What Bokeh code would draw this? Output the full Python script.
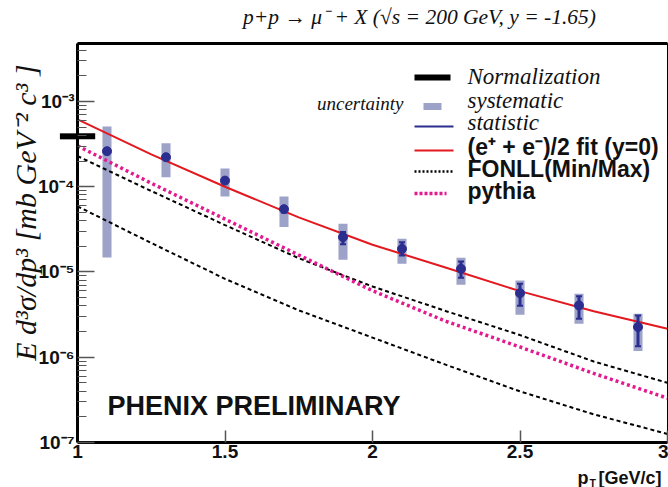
import math
from bokeh.plotting import figure
from bokeh.models import (Label, FixedTicker, CustomJSTickFormatter, LinearAxis,
                          ColumnDataSource)
from bokeh.embed import file_html
from bokeh.resources import INLINE

# ---------------- data ----------------
pt = [1.1, 1.3, 1.5, 1.7, 1.9, 2.1, 2.3, 2.5, 2.7, 2.9]
xsec = [2.61e-4, 2.22e-4, 1.18e-4, 5.46e-5, 2.56e-5, 1.87e-5, 1.09e-5, 5.64e-6, 4.05e-6, 2.26e-6]
sys_hi = [5.10e-4, 3.24e-4, 1.64e-4, 7.70e-5, 3.67e-5, 2.45e-5, 1.47e-5, 7.94e-6, 5.55e-6, 3.24e-6]
sys_lo = [1.48e-5, 1.29e-4, 7.70e-5, 3.36e-5, 1.39e-5, 1.25e-5, 7.08e-6, 3.15e-6, 2.47e-6, 1.18e-6]
stat_hi = [2.75e-4, 2.32e-4, 1.25e-4, 5.90e-5, 2.95e-5, 2.24e-5, 1.33e-5, 7.28e-6, 5.20e-6, 3.09e-6]
stat_lo = [2.47e-4, 2.12e-4, 1.11e-4, 5.00e-5, 2.11e-5, 1.56e-5, 8.55e-6, 4.02e-6, 2.82e-6, 1.35e-6]

curve_pt = [1.0, 1.25, 1.5, 1.75, 2.0, 2.25, 2.5, 2.75, 3.0]
fit_ee = [6.17e-4, 2.40e-4, 1.00e-4, 4.37e-5, 2.09e-5, 1.12e-5, 5.96e-6, 3.47e-6, 2.16e-6]
fonll_max = [2.29e-4, 8.91e-5, 3.55e-5, 1.45e-5, 6.76e-6, 3.47e-6, 1.82e-6, 8.91e-7, 5.01e-7]
fonll_min = [5.89e-5, 2.19e-5, 8.32e-6, 3.55e-6, 1.70e-6, 8.13e-7, 3.98e-7, 2.14e-7, 1.26e-7]
pythia = [3.02e-4, 1.10e-4, 4.17e-5, 1.58e-5, 6.03e-6, 2.63e-6, 1.32e-6, 6.46e-7, 3.31e-7]

norm_value = 3.9e-4
norm_pt = [0.94, 1.06]

x_ticks = [1, 1.5, 2, 2.5, 3]
y_decades = [1e-7, 1e-6, 1e-5, 1e-4, 1e-3]

# ---------------- layout helpers ----------------
W, H = 668, 487
FL, FR, FT, FB = 77, 667, 43, 442
XMIN, XMAX = 1.0, 3.0
LOGMIN = -7.0
DEC = 85.256
LOGMAX = LOGMIN + (FB - FT) / DEC


def dx(px):
    return XMIN + (px - FL) * (XMAX - XMIN) / (FR - FL)


def dy(py):
    return 10 ** (LOGMIN + (FB - py) / DEC)


SERIF = "Liberation Serif"
SANS = "Liberation Sans"
SYS_COL = "#9da2c8"
PT_COL = "#2b2d8f"
RED = "#e3191f"
PINK = "#e3198f"

p = figure(width=W, height=H, x_range=(XMIN, XMAX), y_range=(10 ** LOGMIN, 10 ** LOGMAX),
           y_axis_type="log", output_backend="svg", toolbar_location=None,
           min_border_left=FL, min_border_right=W - FR, min_border_top=FT,
           min_border_bottom=H - FB)
p.title.visible = False
p.xgrid.visible = False
p.ygrid.visible = False
p.background_fill_color = "white"
p.border_fill_color = "white"
p.outline_line_color = "black"
p.outline_line_width = 1

# axes
xa = p.xaxis[0]
xa.ticker = FixedTicker(ticks=x_ticks, minor_ticks=[])
xa.axis_line_width = 3
xa.major_tick_in = 12
xa.major_tick_out = 0
xa.minor_tick_out = 0
xa.major_tick_line_color = "#555555"
xa.major_tick_line_width = 1.5
xa.minor_tick_line_color = None
xa.major_label_text_font = SANS
xa.major_label_text_font_style = "bold"
xa.major_label_text_font_size = "19px"
xa.major_label_standoff = 2
xa.major_label_text_color = "#111111"

ya = p.yaxis[0]
minor = [m * d for d in [1e-8] + y_decades for m in range(2, 10)]
ya.ticker = FixedTicker(ticks=y_decades, minor_ticks=minor)
ya.axis_line_width = 3
ya.major_tick_in = 17
ya.major_tick_out = 0
ya.minor_tick_in = 9
ya.minor_tick_out = 0
ya.major_tick_line_color = "#555555"
ya.minor_tick_line_color = "#555555"
ya.major_tick_line_width = 1.5
ya.minor_tick_line_width = 1.2
ya.major_label_text_font = SANS
ya.major_label_text_font_style = "bold"
ya.major_label_text_font_size = "19px"
ya.major_label_standoff = 3
ya.major_label_text_color = "#111111"
ya.formatter = CustomJSTickFormatter(code="""
const sup = {'-':'\u207b','0':'\u2070','1':'\u00b9','2':'\u00b2','3':'\u00b3','4':'\u2074',
             '5':'\u2075','6':'\u2076','7':'\u2077','8':'\u2078','9':'\u2079'};
const e = Math.round(Math.log10(tick));
return '10' + String(e).split('').map(c => sup[c]).join('');
""")

top = LinearAxis(axis_line_width=3, major_tick_line_color=None, minor_tick_line_color=None,
                 major_tick_out=0, minor_tick_out=0, major_tick_in=0, minor_tick_in=0,
                 major_label_text_font_size="0px", major_label_standoff=0)
top.ticker = FixedTicker(ticks=[], minor_ticks=[])
p.add_layout(top, "above")

# ---------------- data marks ----------------
half_w = 0.0153
src = ColumnDataSource(dict(
    pt=pt, xsec=xsec, sys_hi=sys_hi, sys_lo=sys_lo, stat_hi=stat_hi, stat_lo=stat_lo,
    left=[v - half_w for v in pt], right=[v + half_w for v in pt]))
p.quad(left="left", right="right", bottom="sys_lo", top="sys_hi", source=src,
       fill_color=SYS_COL, line_color=None)

p.line(curve_pt, fit_ee, line_color=RED, line_width=2)
p.line(curve_pt, fonll_max, line_color="black", line_width=2, line_dash="4 3")
p.line(curve_pt, fonll_min, line_color="black", line_width=2, line_dash="4 3")
p.line(curve_pt, pythia, line_color=PINK, line_width=3.5, line_dash="3 3")

p.segment(x0="pt", x1="pt", y0="stat_lo", y1="stat_hi", source=src,
          line_color=PT_COL, line_width=3)
p.rect(x="pt", y="stat_hi", width=6, height=2, width_units="screen", height_units="screen",
       source=src, fill_color=PT_COL, line_color=None)
p.rect(x="pt", y="stat_lo", width=6, height=2, width_units="screen", height_units="screen",
       source=src, fill_color=PT_COL, line_color=None)
p.scatter(x="pt", y="xsec", source=src, size=9, fill_color=PT_COL, line_color=PT_COL)

# normalization uncertainty bar: the part inside the frame is a glyph ...
p.rect(x=(1.0 + norm_pt[1]) / 2, y=norm_value, width=norm_pt[1] - 1.0, height=6,
       height_units="screen", fill_color="black", line_color=None)
# ... the part that overhangs the axis is a filled label box in a side panel
p.add_layout(Label(x=(norm_pt[0] + 1.0) / 2, y=norm_value,
                   text="\u2003\u2003\u2003\u2002",
                   text_font="Liberation Sans", text_font_size="5px",
                   text_align="center", text_baseline="middle",
                   background_fill_color="black", background_fill_alpha=1.0), "above")

# ---------------- legend (drawn by hand) ----------------
p.rect(x=dx(432), y=dy(77), width=dx(450) - dx(414), height=6, height_units="screen",
       fill_color="black", line_color=None)
p.rect(x=dx(432), y=dy(106), width=dx(441) - dx(423), height=7, height_units="screen",
       fill_color=SYS_COL, line_color=None)
p.line([dx(414), dx(453)], [dy(126), dy(126)], line_color=PT_COL, line_width=2)
p.line([dx(414), dx(453)], [dy(150), dy(150)], line_color=RED, line_width=2)
p.line([dx(414), dx(453)], [dy(171), dy(171)], line_color="black", line_width=2.5, line_dash="2 2")
p.line([dx(414), dx(446)], [dy(193), dy(193)], line_color=PINK, line_width=3.5, line_dash="3 2")


def lab(px, py, text, font=SERIF, style="italic", size="23px", align="left",
        baseline="middle", angle=0.0, color="#111111", place="center"):
    p.add_layout(Label(x=dx(px), y=dy(py), text=text, text_font=font,
                       text_font_style=style, text_font_size=size, text_align=align,
                       text_baseline=baseline, angle=angle, text_color=color), place)


lab(467, 76, "Normalization")
lab(403, 103, "uncertainty", size="19px", align="right")
lab(467, 100, "systematic")
lab(467, 122, "statistic")
lab(467, 146, "(e\u207a + e\u207b)/2 fit (y=0)", font=SANS, style="bold", size="23px")
lab(467, 168, "FONLL(Min/Max)", font=SANS, style="bold", size="23px")
lab(467, 190, "pythia", font=SANS, style="bold", size="23px")

lab(107, 405, "PHENIX PRELIMINARY", font=SANS, style="bold", size="27px")

# texts outside the frame live in the side panels so that they are not clipped
lab(419, 16, "p+p \u2192 \u03bc\u207b + X (\u221as = 200 GeV, y = -1.65)", size="21.5px",
    align="center", place="above")
lab(25, 212, "E d\u00b3\u03c3/dp\u00b3 [mb GeV\u207b\u00b2 c\u00b3 ]", size="30px", align="center",
    angle=math.pi / 2, place="left")
lab(577, 477, "p\u00a0\u00a0[GeV/c]", font=SANS, style="bold", size="18px",
    baseline="alphabetic", place="below")
lab(589, 482, "T", font=SANS, style="bold", size="10.5px", baseline="alphabetic", place="above")

open("out.html", "w").write(file_html(p, INLINE))
